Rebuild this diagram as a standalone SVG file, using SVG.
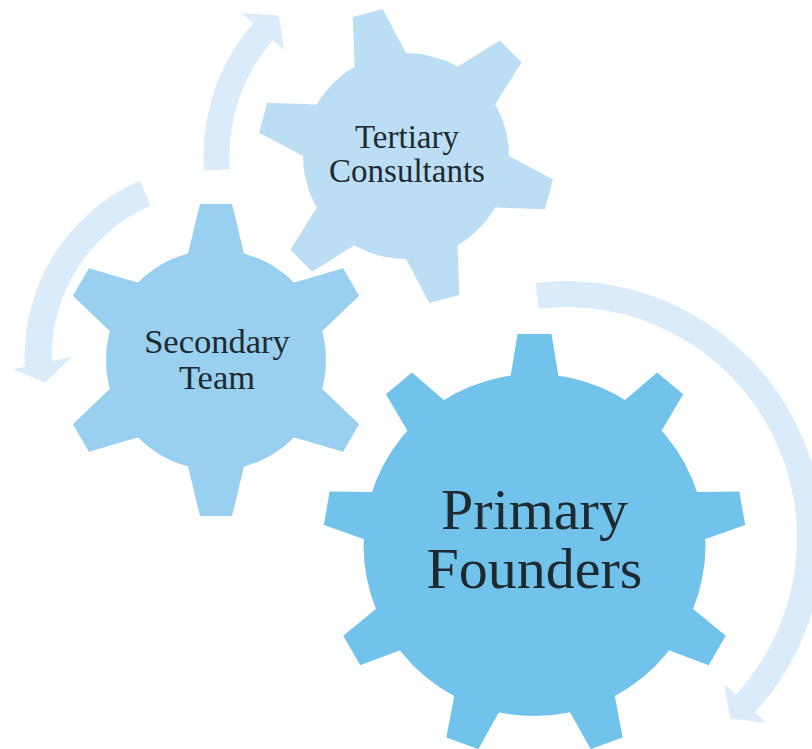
<svg xmlns="http://www.w3.org/2000/svg" width="812" height="749" viewBox="0 0 812 749">
<defs>
<style>
.arrow{fill:#DAECF9}
.g1{fill:#71C3EC}
.g2{fill:#99D0EF}
.g3{fill:#BBDEF4}
text{font-family:"Liberation Serif","Times New Roman",serif;fill:#1F2A30;text-anchor:middle}
</style>
<polygon id="t1" points="-17,-211 17,-211 27,-150 -27,-150"/>
<polygon id="t2" points="-16,-156 16,-156 32,-90 -32,-90"/>
<polygon id="t3" points="-15.5,-148 15.5,-148 30,-85 -30,-85"/>
</defs>
<rect width="812" height="749" fill="#FFFFFF"/>
<g id="connectors">
<path class="arrow" d="M535.57,282.81 A257,257 0 0 1 754.87,712.29 L766.26,722.8 L730.21,718.47 L724.37,684.14 L735.76,694.65 A231,231 0 0 0 538.65,308.62 Z"/>
<path class="arrow" d="M204.04,170.83 A202.5,202.5 0 0 1 253.17,23.15 L241.85,13.31 L278.71,15.62 L284.11,50.05 L272.79,40.21 A176.5,176.5 0 0 0 229.97,168.93 Z"/>
<path class="arrow" d="M139.84,180.84 A191,191 0 0 0 25,366.8 L13.3,369.3 L45,382.7 L71.7,356.7 L51.9,361 A164,164 0 0 1 150.6,205.6 Z"/>
</g>
<g id="primary">
<g class="g1" transform="translate(534.5,545)">
<circle r="171"/>
<use href="#t1"/>
<use href="#t1" transform="rotate(40)"/>
<use href="#t1" transform="rotate(80)"/>
<use href="#t1" transform="rotate(120)"/>
<use href="#t1" transform="rotate(160)"/>
<use href="#t1" transform="rotate(200)"/>
<use href="#t1" transform="rotate(240)"/>
<use href="#t1" transform="rotate(280)"/>
<use href="#t1" transform="rotate(320)"/>
</g>
<text x="534.5" y="529" font-size="58">Primary</text>
<text x="534.5" y="588" font-size="58">Founders</text>
</g>
<g id="secondary">
<g class="g2" transform="translate(216,360)">
<circle r="110"/>
<use href="#t2"/>
<use href="#t2" transform="rotate(60)"/>
<use href="#t2" transform="rotate(120)"/>
<use href="#t2" transform="rotate(180)"/>
<use href="#t2" transform="rotate(240)"/>
<use href="#t2" transform="rotate(300)"/>
</g>
<text x="217" y="352.7" font-size="34.5">Secondary</text>
<text x="217" y="389" font-size="34.5">Team</text>
</g>
<g id="tertiary">
<g class="g3" transform="translate(406,156)">
<circle r="103"/>
<use href="#t3" transform="rotate(45)"/>
<use href="#t3" transform="rotate(105)"/>
<use href="#t3" transform="rotate(165)"/>
<use href="#t3" transform="rotate(225)"/>
<use href="#t3" transform="rotate(285)"/>
<use href="#t3" transform="rotate(345)"/>
</g>
<text x="407" y="147.7" font-size="33">Tertiary</text>
<text x="407" y="181.7" font-size="33">Consultants</text>
</g>
</svg>
